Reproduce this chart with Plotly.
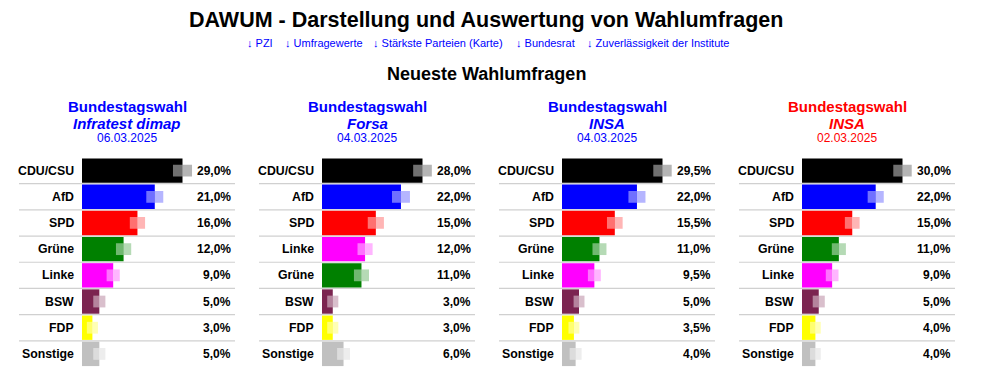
import plotly.graph_objects as go

# ---------------- data ----------------
panel_institutes = ["Infratest dimap", "Forsa", "INSA", "INSA"]
panel_dates = ["06.03.2025", "04.03.2025", "04.03.2025", "02.03.2025"]

p1_parties = ["CDU/CSU", "AfD", "SPD", "Grüne", "Linke", "BSW", "FDP", "Sonstige"]
p1_values = [29.0, 21.0, 16.0, 12.0, 9.0, 5.0, 3.0, 5.0]
p1_margin = [2.75, 2.45, 2.2, 2.2, 1.9, 1.75, 1.6, 1.75]

p2_parties = ["CDU/CSU", "AfD", "SPD", "Linke", "Grüne", "BSW", "FDP", "Sonstige"]
p2_values = [28.0, 22.0, 15.0, 12.0, 11.0, 3.0, 3.0, 6.0]
p2_margin = [2.6, 2.5, 2.25, 2.1, 2.1, 1.55, 1.55, 1.8]

p3_parties = ["CDU/CSU", "AfD", "SPD", "Grüne", "Linke", "BSW", "FDP", "Sonstige"]
p3_values = [29.5, 22.0, 15.5, 11.0, 9.5, 5.0, 3.5, 4.0]
p3_margin = [2.7, 2.5, 2.3, 2.05, 1.9, 1.6, 1.6, 1.75]

p4_parties = ["CDU/CSU", "AfD", "SPD", "Grüne", "Linke", "BSW", "FDP", "Sonstige"]
p4_values = [30.0, 22.0, 15.0, 11.0, 9.0, 5.0, 4.0, 4.0]
p4_margin = [2.75, 2.4, 2.2, 2.1, 1.9, 1.8, 1.6, 1.6]

nav_links = ["↓ PZI", "↓ Umfragewerte", "↓ Stärkste Parteien (Karte)", "↓ Bundesrat",
             "↓ Zuverlässigkeit der Institute"]

# ---------------- styles ----------------
party_colors = {
    "CDU/CSU": "#000000", "AfD": "#0000ff", "SPD": "#ff0000", "Grüne": "#008000",
    "Linke": "#ff00ff", "BSW": "#7b2450", "FDP": "#ffff00", "Sonstige": "#c0c0c0",
}
header_colors = ["#0000ff", "#0000ff", "#0000ff", "#ff0000"]
nav_x = [245, 283, 371, 514, 585]

PAGE_OFF = 8  # default body margin of the page
W, H = 981 - PAGE_OFF, 377 - PAGE_OFF
FONT = "Arial, Liberation Sans, sans-serif"


def mix_white(hexc, a):
    h = hexc.lstrip("#")
    r, g, b = (int(h[i:i + 2], 16) for i in (0, 2, 4))
    r, g, b = (round(c + (255 - c) * a) for c in (r, g, b))
    return f"rgb({r},{g},{b})"


def px(x):
    return (x - PAGE_OFF) / W


def py(y):
    return 1 - (y - PAGE_OFF) / H


panels = [
    (p1_parties, p1_values, p1_margin),
    (p2_parties, p2_values, p2_margin),
    (p3_parties, p3_values, p3_margin),
    (p4_parties, p4_values, p4_margin),
]

fig = go.Figure()
annotations = []
shapes = []
layout_axes = {}

ROW_TOP, ROW_BOT = 157.5, 367.0
BAR_PX = 100.5
AREA_PX = 135.0

for i, (parties, values, margin) in enumerate(panels):
    off = 240 * i
    xa = "x" if i == 0 else f"x{i + 1}"
    ya = "y" if i == 0 else f"y{i + 1}"
    pos = list(range(len(parties)))
    cols = [party_colors[p] for p in parties]
    vmax = max(values)

    fig.add_trace(go.Bar(
        orientation="h", y=pos, x=values, base=[0] * len(values), width=0.93,
        marker=dict(color=cols, line=dict(width=0)), xaxis=xa, yaxis=ya,
        hoverinfo="skip", showlegend=False))
    fig.add_trace(go.Bar(
        orientation="h", y=pos, x=margin,
        base=[v - m for v, m in zip(values, margin)], width=0.45,
        marker=dict(color=[mix_white(c, 0.44) for c in cols], line=dict(width=0)),
        xaxis=xa, yaxis=ya, hoverinfo="skip", showlegend=False))
    fig.add_trace(go.Bar(
        orientation="h", y=pos, x=margin, base=values, width=0.45,
        marker=dict(color=[mix_white(c, 0.71) for c in cols], line=dict(width=0)),
        xaxis=xa, yaxis=ya, hoverinfo="skip", showlegend=False))

    key_x = "xaxis" if i == 0 else f"xaxis{i + 1}"
    key_y = "yaxis" if i == 0 else f"yaxis{i + 1}"
    layout_axes[key_x] = dict(
        domain=[px(off + 82), px(off + 82 + AREA_PX)],
        range=[0, vmax * AREA_PX / BAR_PX], visible=False, fixedrange=True,
        anchor=ya)
    layout_axes[key_y] = dict(
        domain=[py(ROW_BOT), py(ROW_TOP)], range=[len(parties) - 0.5, -0.5],
        visible=False, fixedrange=True, anchor=xa)

    # separators
    for k in range(len(parties) - 1):
        shapes.append(dict(type="line", xref="paper", yref=ya,
                           x0=px(off + 19), x1=px(off + 235), y0=k + 0.5, y1=k + 0.5,
                           line=dict(color="#d0d0d0", width=1.2), layer="below"))

    for k, (p, v) in enumerate(zip(parties, values)):
        annotations.append(dict(
            xref="paper", yref=ya, x=px(off + 75.5), y=k, xanchor="right",
            yanchor="middle", text=f"<b>{p}</b>", showarrow=False,
            font=dict(family=FONT, size=12.3, color="#000000")))
        annotations.append(dict(
            xref="paper", yref=ya, x=px(off + 233), y=k, xanchor="right",
            yanchor="middle", text=f"<b>{v:.1f}%</b>".replace(".", ","),
            showarrow=False, font=dict(family=FONT, size=12, color="#000000")))

    cx = px(off + 127)
    hc = header_colors[i]
    annotations.append(dict(xref="paper", yref="paper", x=cx, y=py(106.5),
                            xanchor="center", yanchor="middle",
                            text="<b>Bundestagswahl</b>", showarrow=False,
                            font=dict(family=FONT, size=15, color=hc)))
    annotations.append(dict(xref="paper", yref="paper", x=cx, y=py(123.5),
                            xanchor="center", yanchor="middle",
                            text=f"<b><i>{panel_institutes[i]}</i></b>", showarrow=False,
                            font=dict(family=FONT, size=15, color=hc)))
    annotations.append(dict(xref="paper", yref="paper", x=cx, y=py(138),
                            xanchor="center", yanchor="middle",
                            text=panel_dates[i], showarrow=False,
                            font=dict(family=FONT, size=12, color=hc)))

annotations.append(dict(xref="paper", yref="paper", x=px(486), y=py(20),
                        xanchor="center", yanchor="middle",
                        text="<b>DAWUM - Darstellung und Auswertung von Wahlumfragen</b>",
                        showarrow=False, font=dict(family=FONT, size=21.5, color="#000000")))
for t, x in zip(nav_links, nav_x):
    annotations.append(dict(xref="paper", yref="paper", x=px(x), y=py(42.5),
                            xanchor="left", yanchor="middle", text=t, showarrow=False,
                            font=dict(family=FONT, size=11, color="#0000ff")))
annotations.append(dict(xref="paper", yref="paper", x=px(486), y=py(74),
                        xanchor="center", yanchor="middle",
                        text="<b>Neueste Wahlumfragen</b>", showarrow=False,
                        font=dict(family=FONT, size=18, color="#000000")))

fig.update_layout(
    width=W, height=H, margin=dict(l=0, r=0, t=0, b=0),
    paper_bgcolor="white", plot_bgcolor="white", barmode="overlay",
    annotations=annotations, shapes=shapes, **layout_axes)

fig.write_html("out.html", config={"displayModeBar": False})
